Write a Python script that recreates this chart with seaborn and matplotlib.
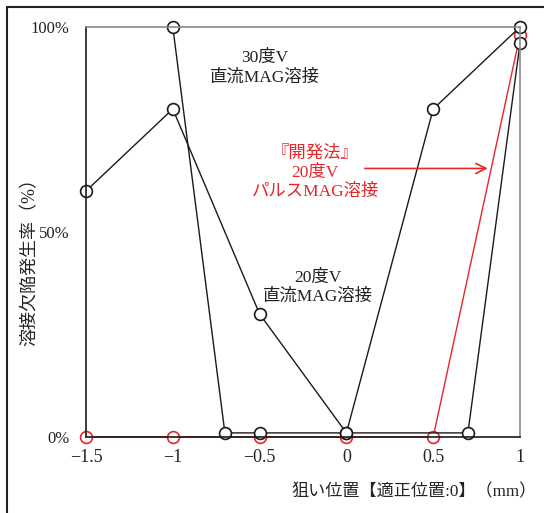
import numpy as np
import pandas as pd
import matplotlib
matplotlib.use("Agg")
import matplotlib.pyplot as plt
from matplotlib.lines import Line2D
import seaborn as sns

# data
x_20 = [-1.5, -1.0, -0.5, 0.0, 0.5, 1.0]
y_20 = [60, 80, 30, 1, 80, 100]          # 20度V 直流MAG溶接
x_30 = [-1.0, -0.7, -0.5, 0.0, 0.7, 1.0]
y_30 = [100, 1, 1, 1, 1, 96]              # 30度V 直流MAG溶接
x_pulse = [-1.5, -1.0, -0.5, 0.0, 0.5, 1.0]
y_pulse = [0, 0, 0, 0, 0, 98]             # 開発法 20度V パルスMAG溶接
xticks = [-1.5, -1, -0.5, 0, 0.5, 1]
xtick_labels = ["\u22121.5", "\u22121", "\u22120.5", "0", "0.5", "1"]
yticks = [0, 50, 100]
ytick_labels = ["0%", "50%", "100%"]

sns.set_style("white")
plt.rcParams['font.family'] = ['Liberation Serif', 'Noto Sans CJK JP', 'DejaVu Sans']
plt.rcParams['font.size'] = 11

fig = plt.figure(figsize=(5.44, 5.13), dpi=100)
ax = fig.add_axes([86 / 544, 76 / 513, 434 / 544, 410 / 513])

RED = '#e8262a'
DARK = '#1a1a1a'
mk = dict(marker='o', markersize=8.5, markerfacecolor='white', linewidth=1.0,
          clip_on=False, markeredgewidth=1.2)

sns.lineplot(x=x_pulse, y=y_pulse, ax=ax, color=RED, markeredgecolor=RED, **mk)
sns.lineplot(x=x_20, y=y_20, ax=ax, color=DARK, markeredgecolor=DARK, **mk)
sns.lineplot(x=x_30, y=y_30, ax=ax, color=DARK, markeredgecolor=DARK, **mk)

ax.set_xlim(-1.5, 1)
ax.set_ylim(0, 100)
ax.set_xticks(xticks)
ax.set_xticklabels(xtick_labels)
ax.set_yticks(yticks)
ax.set_yticklabels(ytick_labels)
ax.tick_params(axis='x', length=0, pad=9, labelsize=13, labelcolor='#222222')
ax.tick_params(axis='y', direction='in', length=5, width=1, color=DARK,
               pad=12, labelsize=12, labelcolor='#222222')

for s in ['top', 'right']:
    ax.spines[s].set_color('#8a8a8a')
    ax.spines[s].set_linewidth(1.2)
for s in ['left', 'bottom']:
    ax.spines[s].set_color(DARK)
    ax.spines[s].set_linewidth(1.2)

ax.text(-0.47, 90, "30度V\n直流MAG溶接", ha='center', va='center',
        fontsize=12.5, linespacing=1.25, color='#222222')
ax.text(-0.165, 36.5, "20度V\n直流MAG溶接", ha='center', va='center',
        fontsize=12.5, linespacing=1.25, color='#222222')
ax.text(-0.18, 64.5, "『開発法』\n20度V\nパルスMAG溶接", ha='center', va='center',
        fontsize=12.5, linespacing=1.25, color=RED)
ax.annotate("", xy=(0.83, 65.5), xytext=(0.09, 65.5),
            arrowprops=dict(arrowstyle='->', color=RED, lw=1.2,
                            mutation_scale=18))

fig.text(30 / 544, 1 - 258 / 513, "溶接欠陥発生率（%）", rotation=90,
         ha='center', va='center', fontsize=13, color='#222222')
fig.text(537 / 544, 1 - 492 / 513, "狙い位置【適正位置:0】（mm）",
         ha='right', va='center', fontsize=12.3, color='#222222')

# outer frame (top and left edges visible)
fig.add_artist(Line2D([7 / 544, 1], [1 - 7 / 513, 1 - 7 / 513],
                      transform=fig.transFigure, color='#222222', lw=1.5))
fig.add_artist(Line2D([7 / 544, 7 / 544], [0, 1 - 7 / 513],
                      transform=fig.transFigure, color='#222222', lw=1.5))

plt.savefig("out.png", dpi=100)
